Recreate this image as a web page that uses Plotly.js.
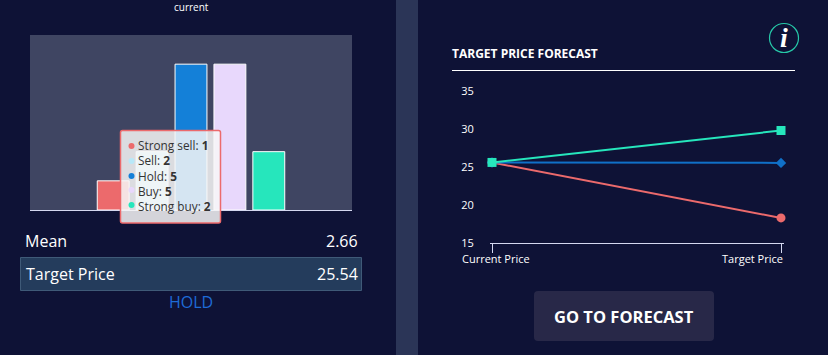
<!DOCTYPE html>
<html>
<head>
<meta charset="utf-8">
<script src="https://cdn.plot.ly/plotly-3.0.1.min.js"></script>
<style>html,body{margin:0;padding:0;background:#0e1236;overflow:hidden}#g{width:828px;height:355px}</style>
</head>
<body>
<div id="g"></div>
<script>
const ratingNames = ['Strong sell', 'Sell', 'Hold', 'Buy', 'Strong buy'];
const ratingValues = [1, 2, 5, 5, 2];
const ratingColors = ['#ec6a6c', '#b8e8f8', '#1480d8', '#e8d8fc', '#26e6bc'];
const ratingCategory = ['current'];

const forecastCategories = ['Current Price', 'Target Price'];
const forecastHigh = [25.6, 29.8];
const forecastMean = [25.6, 25.54];
const forecastLow = [25.6, 18.3];
const yTicks = [15, 20, 25, 30, 35];

const W = 828, H = 355;
const px = x => x / W, py = y => 1 - y / H;
const FONT = '"Open Sans", sans-serif';

const traces = ratingNames.map((n, i) => ({
  type: 'bar', name: n, x: ratingCategory, y: [ratingValues[i]],
  marker: {color: ratingColors[i], line: {color: '#ffffff', width: 1}},
  xaxis: 'x', yaxis: 'y', hoverinfo: 'skip'
}));

const lineTrace = (y, color, symbol, size) => ({
  type: 'scatter', mode: 'lines+markers', x: forecastCategories, y,
  line: {color, width: 2},
  marker: {color, symbol, size},
  xaxis: 'x2', yaxis: 'y2', cliponaxis: false, hoverinfo: 'skip'
});
traces.push(lineTrace(forecastLow, '#ec6a6c', 'circle', 9));
traces.push(lineTrace(forecastMean, '#1070c8', 'diamond', 8));
traces.push(lineTrace(forecastHigh, '#26e6bc', 'square', 9));

const rect = (x0, y0, x1, y1, fill, line, layer, lw) => ({
  type: 'rect', xref: 'paper', yref: 'paper',
  x0: px(x0), x1: px(x1), y0: py(y1), y1: py(y0),
  fillcolor: fill, line: {color: line || 'rgba(0,0,0,0)', width: lw === undefined ? (line ? 1 : 0) : lw},
  layer: layer || 'below'
});
const rounded = (x0, y0, x1, y1, r, fill, line, layer, lw) => {
  const X = v => px(v), Y = v => py(v);
  return {
    type: 'path', xref: 'paper', yref: 'paper',
    path: `M${X(x0 + r)},${Y(y0)} L${X(x1 - r)},${Y(y0)} Q${X(x1)},${Y(y0)} ${X(x1)},${Y(y0 + r)} L${X(x1)},${Y(y1 - r)} Q${X(x1)},${Y(y1)} ${X(x1 - r)},${Y(y1)} L${X(x0 + r)},${Y(y1)} Q${X(x0)},${Y(y1)} ${X(x0)},${Y(y1 - r)} L${X(x0)},${Y(y0 + r)} Q${X(x0)},${Y(y0)} ${X(x0 + r)},${Y(y0)} Z`,
    fillcolor: fill, line: {color: line || 'rgba(0,0,0,0)', width: lw === undefined ? 0 : lw},
    layer: layer || 'below'
  };
};
const circle = (cx, cy, r, fill, line, layer, lw) => ({
  type: 'circle', xref: 'paper', yref: 'paper',
  x0: px(cx - r), x1: px(cx + r), y0: py(cy + r), y1: py(cy - r),
  fillcolor: fill, line: {color: line || 'rgba(0,0,0,0)', width: lw || 0},
  layer: layer || 'above'
});
const label = (text, x, y, size, color, xanchor, extra) => Object.assign({
  text, xref: 'paper', yref: 'paper', x: px(x), y: py(y),
  xanchor: xanchor || 'left', yanchor: 'middle', showarrow: false,
  font: {family: FONT, size, color}, borderpad: 0, borderwidth: 0
}, extra || {});

const tipY = [146, 161, 176, 190, 205];

const shapes = [
  rect(396, 0, 418, 355, '#2b3557'),
  rect(30, 35, 352, 210, '#3f4562'),
  rect(20.5, 257.5, 361.5, 290.5, '#243c5c', '#3f5a78'),
  rect(452, 70, 795, 71, '#ffffff'),
  rounded(534, 291, 714, 341, 4, '#282848'),
  circle(784, 38, 14.5, 'rgba(0,0,0,0)', '#26c8a8', 'below', 1.2),
  rounded(120.5, 130.5, 220.5, 223, 2, 'rgba(247,247,247,0.85)', '#ec6a6c', 'above', 1.5)
];
tipY.forEach((y, i) => shapes.push(circle(131.5, y, 3, ratingColors[i], null, 'above')));

const tipText = ratingNames.map((n, i) => `${n}: <b>${ratingValues[i]}</b>`).join('<br>');

const annotations = [
  label('current', 191, 7, 10, '#ffffff', 'center'),
  label('Mean', 25, 241, 16, '#ffffff'),
  label('2.66', 358, 241, 16, '#ffffff', 'right'),
  label('Target Price', 26, 274, 16, '#ffffff'),
  label('25.54', 358, 274, 16, '#ffffff', 'right'),
  label('HOLD', 191, 302, 16, '#1e6bd6', 'center'),
  label('<b>TARGET PRICE FORECAST</b>', 452, 53, 12, '#ffffff'),
  label('<b><i>i</i></b>', 784, 38, 28, '#ffffff', 'center', {font: {family: '"Liberation Serif", serif', size: 28, color: '#ffffff'}}),
  label(forecastCategories[0], 462, 258, 11, '#ffffff'),
  label(forecastCategories[1], 783, 258, 11, '#ffffff', 'right'),
  label('<b>GO TO FORECAST</b>', 624, 316, 16.5, '#ffffff', 'center'),
  label(tipText, 138, 175.5, 11.8, '#333333', 'left', {align: 'left'})
];

const layout = {
  width: W, height: H,
  margin: {l: 0, r: 0, t: 0, b: 0, pad: 0},
  paper_bgcolor: '#0e1236', plot_bgcolor: 'rgba(0,0,0,0)',
  showlegend: false,
  barmode: 'group', bargap: 0.396, bargroupgap: 0.18,
  font: {family: FONT, color: '#ffffff'},
  xaxis: {
    domain: [px(30), px(352)], anchor: 'y', type: 'category', range: [-0.5, 0.5],
    showticklabels: false, ticks: '', showgrid: false, zeroline: false,
    showline: true, linecolor: '#d4d8f0', linewidth: 1, fixedrange: true
  },
  yaxis: {
    domain: [py(210), py(35)], anchor: 'x', range: [0, 6],
    showticklabels: false, ticks: '', showgrid: false, zeroline: false, fixedrange: true
  },
  xaxis2: {
    domain: [px(490), px(784)], anchor: 'y2', type: 'category',
    range: [-2 / 289, 1 + 3 / 289],
    showticklabels: false, ticks: 'outside', ticklen: 9, tickwidth: 1, tickcolor: '#d4d8f0',
    showgrid: false, zeroline: false, showline: true, linecolor: '#d4d8f0', linewidth: 1, fixedrange: true
  },
  yaxis2: {
    domain: [py(243), py(91)], anchor: 'x2', range: [15, 35],
    tickvals: yTicks, ticktext: yTicks.map(String),
    ticks: 'outside', ticklen: 13, tickcolor: 'rgba(0,0,0,0)',
    tickfont: {family: FONT, size: 11, color: '#ffffff'},
    showgrid: false, zeroline: false, showline: false, fixedrange: true
  },
  shapes, annotations
};
Plotly.newPlot('g', traces, layout, {displayModeBar: false, staticPlot: true});
</script>
</body>
</html>
